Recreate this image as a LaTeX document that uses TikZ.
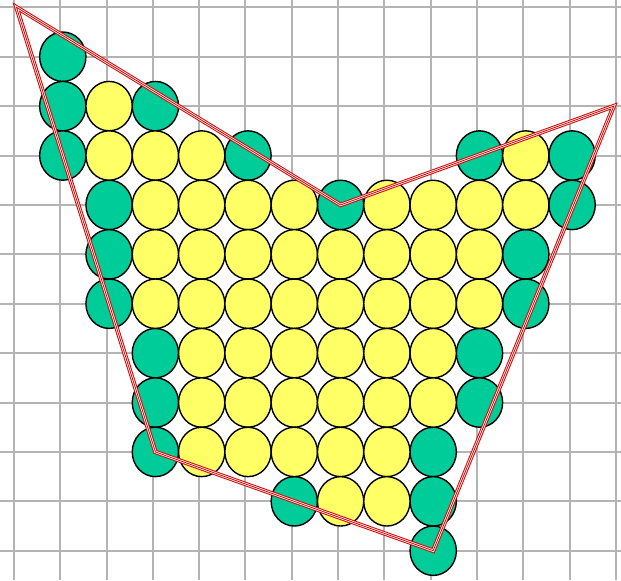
\documentclass[tikz,border=0pt]{standalone}
\usetikzlibrary{shapes.geometric}
\definecolor{customgreen}{HTML}{00CC99}
\definecolor{customyellow}{HTML}{FFFF66}
\definecolor{customred}{HTML}{DD0000}
\definecolor{customgray}{HTML}{B4B4B4}

\begin{document}
\begin{tikzpicture}[x={(46.3pt,0pt)},y={(0pt,-49.4pt)}]
  % Estilos
  \tikzset{
    green_node/.style={ellipse,fill=customgreen,draw=black,line width=1.4pt,minimum width=46.3pt,minimum height=49.4pt,inner sep=0pt},
    yellow_node/.style={green_node,fill=customyellow},
    grid_line/.style={customgray,line width=2pt},
    hull_line/.style={draw=customred,line width=1pt,double=white,double distance=2.4pt}
  }
  \useasboundingbox (-0.356,-0.148) rectangle (13.056,11.593);

  % Cuadricula
  \foreach \i in {0,...,13}
    \draw[grid_line] (\i-0.054,-0.148) -- (\i-0.054,11.593);
  \foreach \j in {0,...,11}
    \draw[grid_line] (-0.356,\j) -- (13.056,\j);

  % Puntos del borde en verde
  \foreach \c/\r in {1/1,1/2,3/2,1/3,5/3,10/3,12/3,2/4,7/4,12/4,2/5,11/5,2/6,11/6,
                     3/7,10/7,3/8,10/8,3/9,9/9,6/10,9/10,9/11}
    \node[green_node] (n\c-\r) at (\c,\r) {};

  % Puntos interiores en amarillo
  \foreach \r/\cols in {2/{2},3/{2,3,4,11},4/{3,4,5,6,8,9,10,11},5/{3,...,10},
                        6/{3,...,10},7/{4,...,9},8/{4,...,9},9/{4,...,8},10/{7,8}}
    \foreach \c in \cols
      \node[yellow_node] (n\c-\r) at (\c,\r) {};

  % Poligono en rojo
  \coordinate (p1) at (0,0);
  \coordinate (p3) at (12.9,2);
  \draw[hull_line] (p1) -- (n7-4.center) -- (p3) -- (n9-11.center) -- (n3-9.center) -- cycle;
  \draw[customred,line width=0.8pt] (p1) -- (n7-4.center) -- (p3) -- (n9-11.center) -- (n3-9.center) -- cycle;
\end{tikzpicture}
\end{document}
